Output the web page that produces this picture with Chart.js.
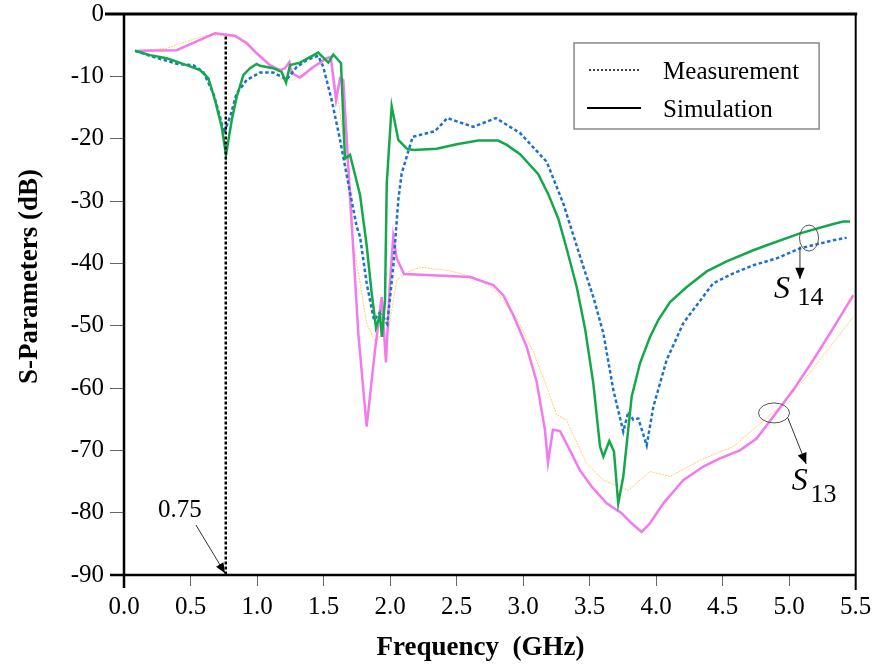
<!DOCTYPE html>
<html>
<head>
<meta charset="utf-8">
<script src="https://cdn.jsdelivr.net/npm/chart.js@4.4.1/dist/chart.umd.min.js"></script>
<style>
  html, body { margin: 0; padding: 0; background: #fff; }
  #wrap { width: 883px; height: 665px; }
</style>
</head>
<body>
<div id="wrap"><canvas id="sparams" width="883" height="665"></canvas></div>
<script>
// tick values
const freqTicks = [0, 0.5, 1, 1.5, 2, 2.5, 3, 3.5, 4, 4.5, 5, 5.5];
const dbTicks = [0, -10, -20, -30, -40, -50, -60, -70, -80, -90];

// S14 simulation (green)
const simS14Freq = [0.083,0.195,0.321,0.471,0.571,0.634,0.684,0.734,0.767,0.810,0.847,0.897,0.947,0.997,1.022,1.122,1.185,1.218,1.248,1.323,1.460,1.536,1.573,1.631,1.661,1.699,1.774,1.824,1.862,1.894,1.924,1.939,1.962,1.975,2.012,2.062,2.125,2.175,2.350,2.501,2.663,2.813,2.877,2.977,3.114,3.189,3.264,3.328,3.403,3.465,3.528,3.578,3.603,3.648,3.683,3.715,3.753,3.816,3.879,3.954,4.016,4.104,4.230,4.380,4.530,4.730,4.831,5.081,5.331,5.407,5.457];
const simS14Db = [-5.9,-6.6,-7.1,-8.2,-9.0,-10.3,-13.8,-18.1,-22.6,-17.0,-13.3,-9.8,-8.7,-8.0,-8.3,-8.7,-9.3,-11.0,-8.2,-7.8,-6.2,-7.8,-6.5,-7.9,-23.2,-22.6,-29.0,-37.1,-44.8,-50.3,-48.3,-51.8,-45.9,-27.2,-14.8,-20.2,-21.6,-21.8,-21.6,-20.9,-20.3,-20.3,-21.0,-22.5,-25.7,-28.9,-32.8,-37.7,-43.8,-50.4,-59.3,-69.4,-71.0,-68.5,-70.2,-78.5,-74.2,-61.4,-56.0,-51.8,-49.1,-46.2,-43.8,-41.3,-39.7,-37.9,-37.1,-35.2,-33.7,-33.3,-33.3];

// S14 measurement (blue dotted)
const measS14Freq = [0.083,0.195,0.396,0.521,0.596,0.671,0.722,0.752,0.797,0.847,0.922,1.022,1.122,1.223,1.298,1.373,1.460,1.498,1.561,1.624,1.686,1.749,1.774,1.824,1.879,1.919,1.949,1.979,2.024,2.062,2.087,2.170,2.338,2.430,2.625,2.796,2.977,3.177,3.302,3.452,3.528,3.603,3.678,3.753,3.791,3.828,3.866,3.929,3.979,4.079,4.204,4.429,4.580,4.730,4.906,5.081,5.331,5.432];
const measS14Db = [-5.9,-6.7,-8.0,-8.2,-9.3,-12.7,-16.5,-19.1,-16.5,-12.7,-10.6,-9.4,-9.4,-10.5,-8.5,-7.4,-6.7,-8.5,-13.8,-20.2,-27.2,-34.1,-35.7,-43.2,-49.1,-48.0,-48.6,-49.7,-40.5,-29.8,-25.6,-19.7,-18.8,-16.7,-18.1,-16.7,-19.1,-23.7,-30.4,-40.5,-45.4,-51.2,-60.3,-67.0,-63.8,-65.1,-64.9,-69.2,-63.0,-55.5,-49.6,-43.2,-41.6,-40.3,-39.2,-37.6,-36.3,-35.9];

// S13 simulation (pink)
const simS13Freq = [0.107,0.396,0.546,0.684,0.834,0.922,0.997,1.097,1.173,1.210,1.243,1.261,1.323,1.423,1.524,1.554,1.594,1.624,1.648,1.686,1.724,1.761,1.824,1.887,1.937,1.969,1.999,2.024,2.050,2.105,2.601,2.776,2.851,2.926,3.027,3.102,3.164,3.187,3.224,3.277,3.352,3.427,3.515,3.628,3.741,3.816,3.891,3.954,4.054,4.204,4.354,4.480,4.630,4.755,4.880,5.031,5.181,5.331,5.482];
const simS13Db = [-5.9,-5.8,-4.4,-3.1,-3.5,-4.7,-6.3,-8.2,-9.0,-8.7,-7.7,-9.5,-10.2,-8.5,-7.1,-6.9,-13.8,-10.3,-10.6,-24.5,-37.9,-51.2,-66.2,-53.9,-45.4,-55.9,-43.2,-35.7,-39.2,-41.7,-42.2,-43.5,-45.1,-48.3,-53.4,-59.0,-66.7,-72.0,-66.7,-66.9,-70.0,-73.2,-75.8,-78.5,-80.1,-81.7,-83.1,-81.7,-78.5,-74.8,-72.6,-71.3,-70.0,-68.1,-64.6,-60.3,-55.5,-50.4,-45.1];

// S13 measurement (thin yellow)
const measS13Freq = [0.107,0.321,0.471,0.622,0.722,0.822,0.922,1.022,1.122,1.185,1.223,1.273,1.373,1.473,1.548,1.611,1.661,1.712,1.824,1.894,1.924,1.962,1.979,2.050,2.125,2.225,2.450,2.626,2.776,2.952,3.077,3.177,3.252,3.328,3.352,3.478,3.603,3.791,3.954,4.104,4.330,4.580,4.780,4.931,5.131,5.307,5.482];
const measS13Db = [-5.9,-5.5,-4.4,-3.4,-3.4,-3.7,-4.4,-6.6,-8.5,-10.6,-10.5,-10.6,-9.3,-7.7,-6.7,-13.8,-21.8,-35.2,-49.6,-52.9,-51.5,-51.2,-51.8,-42.7,-41.5,-40.6,-41.2,-42.2,-44.0,-48.8,-54.2,-59.8,-64.3,-65.1,-66.4,-72.1,-74.8,-76.4,-73.4,-74.2,-71.6,-69.4,-65.7,-63.0,-58.2,-53.4,-48.6];

// 0.75 GHz marker line
const markerFreq = [0.765, 0.765];
const markerDb = [-3.6, -90];

const serif = "'Liberation Serif', 'Times New Roman', Times, serif";
Chart.defaults.font.family = serif;
Chart.defaults.color = '#000';

function pts(xs, ys) {
  const n = Math.min(xs.length, ys.length);
  const out = [];
  for (let i = 0; i < n; i++) out.push({ x: xs[i], y: ys[i] });
  return out;
}

function series(label, xs, ys, color, width, dash) {
  return {
    label: label,
    data: pts(xs, ys),
    borderColor: color,
    backgroundColor: color,
    borderWidth: width,
    borderDash: dash || [],
    pointRadius: 0,
    fill: false,
    tension: 0,
    showLine: true
  };
}

function arrow(ctx, x1, y1, x2, y2, head) {
  ctx.beginPath();
  ctx.moveTo(x1, y1);
  ctx.lineTo(x2, y2);
  ctx.stroke();
  const a = Math.atan2(y2 - y1, x2 - x1);
  ctx.beginPath();
  ctx.moveTo(x2, y2);
  ctx.lineTo(x2 - head * Math.cos(a - 0.4), y2 - head * Math.sin(a - 0.4));
  ctx.lineTo(x2 - head * Math.cos(a + 0.4), y2 - head * Math.sin(a + 0.4));
  ctx.closePath();
  ctx.fill();
}

// frame, titles, legend box and the S13 / S14 call-outs
const decorations = {
  id: 'decorations',
  afterDraw(chart) {
    const ctx = chart.ctx;
    const { left, right, top, bottom } = chart.chartArea;
    const X = v => chart.scales.x.getPixelForValue(v);
    const Y = v => chart.scales.y.getPixelForValue(v);
    ctx.save();

    // axes box
    ctx.strokeStyle = '#000';
    ctx.lineWidth = 3;
    ctx.beginPath(); ctx.moveTo(left - 19, top); ctx.lineTo(right + 1.5, top); ctx.stroke();
    ctx.lineWidth = 2.5;
    ctx.beginPath(); ctx.moveTo(left, top); ctx.lineTo(left, bottom + 13); ctx.stroke();
    ctx.beginPath(); ctx.moveTo(left - 14, bottom); ctx.lineTo(right, bottom); ctx.stroke();
    ctx.lineWidth = 2;
    ctx.beginPath(); ctx.moveTo(right, top); ctx.lineTo(right, bottom + 15); ctx.stroke();

    // axis titles
    ctx.fillStyle = '#000';
    ctx.font = 'bold 27px ' + serif;
    ctx.textAlign = 'center';
    ctx.textBaseline = 'middle';
    ctx.fillText('Frequency  (GHz)', X(2.68), bottom + 73);
    ctx.save();
    ctx.translate(left - 94, (top + bottom) / 2 - 18);
    ctx.rotate(-Math.PI / 2);
    ctx.fillText('S-Parameters (dB)', 0, 0);
    ctx.restore();

    // legend
    const lx = X(3.383), ly = Y(-4.65), lw = X(5.225) - lx, lh = Y(-18.45) - ly;
    ctx.strokeStyle = '#888';
    ctx.lineWidth = 1.5;
    ctx.strokeRect(lx, ly, lw, lh);
    ctx.strokeStyle = '#000';
    ctx.lineWidth = 1.5;
    ctx.setLineDash([2, 2]);
    ctx.beginPath(); ctx.moveTo(lx + 15, ly + 27); ctx.lineTo(lx + 66, ly + 27); ctx.stroke();
    ctx.setLineDash([]);
    ctx.lineWidth = 2;
    ctx.beginPath(); ctx.moveTo(lx + 13, ly + 65); ctx.lineTo(lx + 67, ly + 65); ctx.stroke();
    ctx.font = '25px ' + serif;
    ctx.textAlign = 'left';
    ctx.textBaseline = 'alphabetic';
    ctx.fillText('Measurement', lx + 89, ly + 36);
    ctx.fillText('Simulation', lx + 89, ly + 74);

    // 0.75 marker label
    ctx.fillText('0.75', X(0.256), Y(-80.65));
    ctx.strokeStyle = '#333';
    ctx.fillStyle = '#000';
    ctx.lineWidth = 1;
    arrow(ctx, X(0.541), Y(-81.98), X(0.759), Y(-89.7), 11);

    // S14 call-out
    ctx.strokeStyle = '#555';
    ctx.beginPath();
    ctx.ellipse(X(5.149), Y(-35.94), 9.5, 13, 0, 0, Math.PI * 2);
    ctx.stroke();
    ctx.strokeStyle = '#333';
    arrow(ctx, X(5.081), Y(-37.3), X(5.081), Y(-42.5), 12);
    ctx.fillStyle = '#000';
    ctx.font = 'italic 32px ' + serif;
    ctx.fillText('S', X(4.886), Y(-45.56));
    ctx.font = '26px ' + serif;
    ctx.fillText('14', X(5.062), Y(-46.7));

    // S13 call-out
    ctx.strokeStyle = '#555';
    ctx.beginPath();
    ctx.ellipse(X(4.886), Y(-64.0), 15.5, 10, 0, 0, Math.PI * 2);
    ctx.stroke();
    ctx.strokeStyle = '#333';
    arrow(ctx, X(4.990), Y(-64.8), X(5.128), Y(-72.2), 12);
    ctx.font = 'italic 32px ' + serif;
    ctx.fillText('S', X(5.019), Y(-76.4));
    ctx.font = '26px ' + serif;
    ctx.fillText('13', X(5.16), Y(-78.3));

    ctx.restore();
  }
};

new Chart(document.getElementById('sparams'), {
  type: 'scatter',
  data: {
    datasets: [
      series('0.75 GHz', markerFreq, markerDb, '#000', 2.5, [3, 2]),
      series('S14 Simulation', simS14Freq, simS14Db, '#14a84b', 2.5),
      series('S14 Measurement', measS14Freq, measS14Db, '#1a72cc', 2.5, [3.5, 2.5]),
      series('S13 Simulation', simS13Freq, simS13Db, '#f27aee', 2.5),
      series('S13 Measurement', measS13Freq, measS13Db, '#ffcf6a', 1, [2, 1])
    ]
  },
  options: {
    responsive: false,
    animation: false,
    devicePixelRatio: 1,
    layout: { padding: { left: 0, top: 14, right: 27.3, bottom: 0 } },
    plugins: {
      legend: { display: false },
      tooltip: { enabled: false }
    },
    scales: {
      x: {
        type: 'linear',
        min: 0,
        max: 5.5,
        afterBuildTicks: s => { s.ticks = freqTicks.map(v => ({ value: v })); },
        afterFit: s => { s.height = 90; },
        ticks: {
          font: { size: 25, lineHeight: 1 },
          padding: 9,
          maxRotation: 0,
          autoSkip: false,
          callback: v => Number(v).toFixed(1)
        },
        grid: { drawOnChartArea: false, drawTicks: true, tickLength: 11, color: '#666', lineWidth: 1 },
        border: { display: false }
      },
      y: {
        type: 'linear',
        min: -90,
        max: 0,
        afterBuildTicks: s => { s.ticks = dbTicks.map(v => ({ value: v })); },
        afterFit: s => { s.width = 124; },
        ticks: {
          font: { size: 25, lineHeight: 0.5 },
          padding: 6,
          autoSkip: false,
          callback: v => String(v)
        },
        grid: { drawOnChartArea: false, drawTicks: true, tickLength: 14, color: '#666', lineWidth: 1 },
        border: { display: false }
      }
    }
  },
  plugins: [decorations]
});
</script>
</body>
</html>
